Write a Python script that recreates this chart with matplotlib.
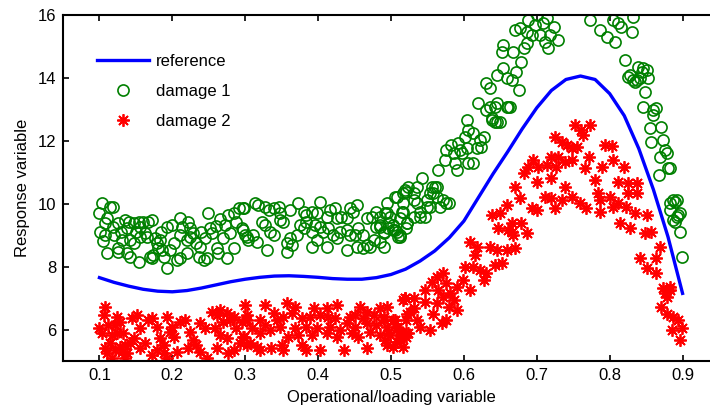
import numpy as np
import matplotlib.pyplot as plt

plt.rcParams['font.family'] = ['Liberation Sans', 'DejaVu Sans']

# reference response curve
ref_x = [0.10, 0.12, 0.14, 0.16, 0.18, 0.20, 0.22, 0.24, 0.26, 0.28, 0.30,
         0.32, 0.34, 0.36, 0.38, 0.40, 0.42, 0.44, 0.46, 0.48, 0.50, 0.52,
         0.54, 0.56, 0.58, 0.60, 0.62, 0.64, 0.66, 0.68, 0.70, 0.72, 0.74,
         0.76, 0.78, 0.80, 0.82, 0.84, 0.86, 0.88, 0.90]
ref_y = [7.65, 7.50, 7.38, 7.28, 7.22, 7.20, 7.24, 7.32, 7.42, 7.52, 7.60,
         7.66, 7.70, 7.71, 7.69, 7.66, 7.62, 7.60, 7.60, 7.65, 7.75, 7.92,
         8.18, 8.50, 8.92, 9.45, 10.20, 10.95, 11.65, 12.38, 13.05, 13.60, 13.95,
         14.06, 13.95, 13.50, 12.80, 11.75, 10.45, 8.95, 7.15]

# damage 1 measurements (x, y)
damage1 = [
    (0.103, 10.01), (0.115, 9.91), (0.118, 9.89), (0.099, 9.72), (0.110, 9.54),
    (0.108, 9.38), (0.101, 9.11), (0.108, 9.01), (0.119, 9.27), (0.126, 9.38),
    (0.135, 9.48), (0.140, 9.43), (0.138, 9.22), (0.147, 9.38), (0.154, 9.43),
    (0.160, 9.43), (0.156, 9.27), (0.167, 9.43), (0.172, 9.48), (0.131, 8.85),
    (0.126, 8.58), (0.142, 8.85), (0.147, 8.74), (0.138, 8.42), (0.154, 8.16),
    (0.163, 9.06), (0.176, 8.90), (0.179, 8.74), (0.183, 8.85), (0.174, 8.37),
    (0.172, 8.26), (0.188, 8.32), (0.197, 8.53), (0.202, 8.74), (0.192, 7.95),
    (0.199, 9.32), (0.211, 9.54), (0.213, 9.27), (0.222, 9.43), (0.224, 9.22),
    (0.229, 9.06), (0.220, 8.85), (0.224, 8.95), (0.206, 8.21), (0.211, 8.26),
    (0.220, 8.42), (0.233, 8.74), (0.238, 8.64), (0.236, 8.32), (0.243, 8.21),
    (0.247, 8.26), (0.249, 9.70), (0.252, 9.22), (0.254, 9.06), (0.261, 8.58),
    (0.263, 8.42), (0.270, 8.90), (0.275, 8.26), (0.277, 9.64), (0.284, 9.70),
    (0.291, 9.85), (0.297, 9.85), (0.288, 9.43), (0.297, 9.17), (0.302, 8.95),
    (0.279, 9.06), (0.272, 9.32), (0.110, 8.42), (0.126, 8.48), (0.142, 8.32),
    (0.170, 8.32), (0.186, 8.53), (0.156, 8.95), (0.192, 9.27), (0.120, 9.00),
    (0.130, 9.10), (0.165, 8.95), (0.185, 9.10), (0.210, 9.00), (0.240, 9.10),
    (0.260, 9.30), (0.285, 8.60), (0.245, 8.90), (0.105, 8.80), (0.150, 9.10),
    (0.180, 8.60), (0.265, 9.50),
    (0.298, 9.85), (0.314, 10.01), (0.318, 9.96), (0.327, 9.91), (0.332, 9.80),
    (0.339, 9.85), (0.346, 9.91), (0.348, 9.70), (0.373, 10.01), (0.362, 9.80),
    (0.380, 9.75), (0.384, 9.64), (0.391, 9.75), (0.398, 9.70), (0.403, 10.07),
    (0.412, 9.59), (0.416, 9.80), (0.423, 9.85), (0.426, 9.54), (0.432, 9.59),
    (0.439, 9.54), (0.444, 9.85), (0.453, 9.96), (0.448, 9.75), (0.467, 9.54),
    (0.474, 9.59), (0.480, 9.75), (0.494, 10.01), (0.506, 10.22), (0.517, 10.01),
    (0.521, 10.38), (0.517, 9.75), (0.512, 9.54), (0.295, 9.22), (0.300, 9.01),
    (0.304, 8.85), (0.311, 9.01), (0.323, 9.43), (0.327, 9.32), (0.334, 9.11),
    (0.339, 9.01), (0.348, 9.48), (0.352, 9.43), (0.362, 8.90), (0.357, 8.74),
    (0.364, 8.69), (0.371, 9.01), (0.375, 9.32), (0.380, 9.22), (0.384, 9.43),
    (0.391, 9.11), (0.396, 9.32), (0.403, 9.27), (0.407, 9.11), (0.414, 9.22),
    (0.421, 9.01), (0.426, 8.90), (0.430, 9.11), (0.439, 9.17), (0.444, 9.01),
    (0.451, 9.01), (0.455, 9.22), (0.462, 9.01), (0.467, 8.69), (0.471, 8.64),
    (0.476, 8.85), (0.480, 9.27), (0.485, 9.32), (0.490, 9.11), (0.496, 9.22),
    (0.503, 9.32), (0.508, 9.11), (0.512, 9.01), (0.521, 9.22), (0.330, 8.53),
    (0.357, 8.48), (0.391, 8.64), (0.439, 8.53), (0.462, 8.58), (0.412, 8.64),
    (0.398, 8.85), (0.453, 8.64), (0.485, 8.79), (0.316, 8.79),
    (0.494, 9.70), (0.503, 9.16), (0.512, 8.95), (0.490, 8.63), (0.531, 10.12),
    (0.554, 10.33), (0.522, 9.38), (0.540, 9.59), (0.563, 10.54), (0.576, 10.01),
    (0.549, 9.91), (0.485, 9.27),
    (0.490, 9.06), (0.496, 9.38), (0.506, 9.17), (0.510, 8.95), (0.499, 9.59),
    (0.485, 9.59), (0.492, 9.70), (0.508, 10.22), (0.519, 10.43), (0.524, 10.54),
    (0.517, 10.33), (0.531, 10.33), (0.535, 10.54), (0.542, 10.81), (0.535, 10.01),
    (0.540, 9.75), (0.547, 9.59), (0.531, 9.59), (0.522, 9.38), (0.515, 9.75),
    (0.549, 10.12), (0.556, 10.54), (0.560, 10.54), (0.563, 10.22), (0.572, 10.12),
    (0.579, 10.01), (0.567, 9.91), (0.554, 9.91), (0.558, 10.33), (0.565, 11.07),
    (0.574, 11.39), (0.576, 11.71), (0.583, 11.87), (0.592, 11.92), (0.597, 11.60),
    (0.588, 11.28), (0.590, 11.07), (0.606, 11.28), (0.613, 11.28), (0.604, 11.76),
    (0.595, 11.71), (0.586, 11.60), (0.602, 12.13), (0.606, 12.35), (0.604, 12.66),
    (0.613, 12.24), (0.622, 12.03), (0.627, 12.13), (0.624, 11.81), (0.618, 11.76),
    (0.636, 13.09), (0.645, 13.19), (0.659, 13.09), (0.663, 13.09), (0.643, 12.61),
    (0.638, 12.72), (0.650, 12.61),
    (0.700, 16.00), (0.714, 15.89), (0.688, 15.84), (0.698, 15.68), (0.709, 15.74),
    (0.723, 15.63), (0.670, 15.52), (0.677, 15.58), (0.686, 15.47), (0.693, 15.36),
    (0.704, 15.36), (0.718, 15.36), (0.729, 15.21), (0.711, 15.15), (0.716, 14.94),
    (0.682, 14.94), (0.686, 15.10), (0.668, 14.83), (0.654, 15.05), (0.652, 14.83),
    (0.679, 14.52), (0.654, 14.30), (0.672, 14.20), (0.645, 14.09), (0.659, 13.99),
    (0.666, 13.93), (0.631, 13.83), (0.636, 13.67), (0.675, 13.62), (0.620, 13.19),
    (0.631, 12.98), (0.643, 13.09), (0.661, 13.09), (0.638, 12.66), (0.645, 12.61),
    (0.773, 15.84), (0.787, 15.52), (0.796, 15.31), (0.807, 15.15), (0.805, 15.84),
    (0.812, 15.74), (0.816, 15.63), (0.832, 15.95), (0.830, 15.47), (0.821, 14.57),
    (0.828, 14.09), (0.839, 14.36), (0.844, 14.20), (0.837, 13.93), (0.851, 14.25),
    (0.853, 13.99), (0.832, 13.93), (0.848, 13.56), (0.846, 13.09), (0.864, 13.03),
    (0.860, 12.82), (0.871, 12.45), (0.855, 12.40), (0.873, 12.03), (0.857, 11.97),
    (0.878, 11.60), (0.869, 11.50), (0.880, 11.13), (0.867, 10.91), (0.887, 10.12),
    (0.846, 14.31), (0.841, 13.99), (0.825, 14.04), (0.835, 13.88), (0.860, 12.98),
    (0.876, 11.71), (0.883, 11.13), (0.889, 10.07), (0.883, 9.80), (0.892, 9.59),
    (0.887, 9.48), (0.894, 9.64), (0.896, 9.11), (0.899, 8.32), (0.883, 10.01),
    (0.892, 10.12), (0.896, 9.70), (0.889, 9.43),
]

# damage 2 measurements (x, y)
damage2 = [
    (0.108, 6.73), (0.106, 6.46), (0.099, 6.04), (0.103, 5.88), (0.112, 6.15),
    (0.124, 6.41), (0.128, 6.25), (0.122, 6.15), (0.117, 5.83), (0.124, 5.88),
    (0.133, 5.88), (0.144, 6.36), (0.151, 6.46), (0.156, 6.04), (0.147, 5.72),
    (0.142, 5.56), (0.135, 5.51), (0.128, 5.46), (0.115, 5.56), (0.108, 5.40),
    (0.110, 5.24), (0.122, 5.35), (0.131, 5.30), (0.138, 5.24), (0.117, 5.09),
    (0.135, 5.09), (0.156, 5.40), (0.163, 5.56), (0.167, 6.30), (0.172, 6.36),
    (0.179, 6.09), (0.183, 5.72), (0.188, 5.51), (0.192, 6.41), (0.197, 5.93),
    (0.202, 5.77), (0.199, 6.09), (0.179, 5.35), (0.172, 5.19), (0.188, 5.24),
    (0.192, 5.09), (0.206, 5.30), (0.211, 6.25), (0.218, 6.30), (0.224, 5.93),
    (0.229, 5.67), (0.233, 5.51), (0.222, 5.40), (0.238, 5.30), (0.247, 5.09),
    (0.238, 6.20), (0.245, 6.04), (0.254, 6.57), (0.261, 6.46), (0.265, 6.62),
    (0.275, 6.52), (0.270, 6.25), (0.279, 6.30), (0.284, 6.41), (0.259, 6.04),
    (0.265, 5.83), (0.275, 5.72), (0.288, 6.04), (0.295, 6.25), (0.297, 5.77),
    (0.302, 5.51), (0.284, 5.35), (0.277, 5.24), (0.261, 5.40), (0.300, 6.78),
    (0.302, 6.46),
    (0.327, 6.78), (0.357, 6.83), (0.368, 6.73), (0.394, 6.67), (0.412, 6.67),
    (0.426, 6.78), (0.458, 6.73), (0.467, 6.57), (0.485, 6.67), (0.517, 6.94),
    (0.526, 6.57), (0.302, 6.30), (0.320, 6.30), (0.339, 6.52), (0.343, 6.30),
    (0.352, 6.41), (0.364, 6.52), (0.378, 6.36), (0.389, 6.41), (0.403, 6.46),
    (0.414, 6.41), (0.423, 6.36), (0.444, 6.41), (0.451, 6.46), (0.462, 6.36),
    (0.476, 6.46), (0.490, 6.41), (0.506, 6.30), (0.521, 6.30), (0.309, 6.04),
    (0.327, 6.15), (0.334, 5.99), (0.348, 6.09), (0.368, 6.04), (0.384, 6.09),
    (0.398, 6.04), (0.416, 6.09), (0.430, 5.99), (0.439, 6.20), (0.451, 6.09),
    (0.467, 6.20), (0.480, 6.15), (0.494, 6.09), (0.508, 6.04), (0.512, 5.93),
    (0.521, 5.88), (0.298, 5.77), (0.320, 5.88), (0.359, 5.77), (0.373, 5.83),
    (0.391, 5.83), (0.412, 5.88), (0.426, 5.77), (0.446, 5.88), (0.455, 5.77),
    (0.471, 5.93), (0.485, 5.83), (0.499, 5.83), (0.512, 5.72), (0.521, 5.77),
    (0.307, 5.56), (0.316, 5.45), (0.336, 5.40), (0.350, 5.51), (0.378, 5.51),
    (0.384, 5.35), (0.403, 5.35), (0.435, 5.35), (0.467, 5.40), (0.494, 5.51),
    (0.508, 5.61), (0.320, 5.35), (0.293, 5.56), (0.352, 5.35),
    (0.494, 6.73), (0.490, 6.30), (0.503, 6.30), (0.496, 5.88), (0.508, 6.09),
    (0.519, 6.99), (0.522, 6.51), (0.524, 5.88), (0.531, 6.67), (0.535, 6.30),
    (0.540, 6.09), (0.547, 6.89), (0.554, 5.99), (0.558, 6.51), (0.563, 6.83),
    (0.572, 7.05), (0.579, 6.73), (0.590, 6.62), (0.576, 6.30), (0.570, 6.20),
    (0.512, 5.67), (0.517, 5.45), (0.503, 5.45), (0.492, 5.67),
    (0.752, 12.50), (0.773, 12.50), (0.761, 12.35), (0.764, 12.19), (0.725, 12.13),
    (0.734, 11.97), (0.741, 11.87), (0.748, 11.76), (0.755, 11.81), (0.793, 11.87),
    (0.803, 11.84), (0.771, 11.50), (0.695, 11.39), (0.688, 11.18), (0.682, 10.97),
    (0.702, 11.18), (0.714, 11.23), (0.720, 11.50), (0.729, 11.50), (0.739, 11.34),
    (0.748, 11.39), (0.727, 11.18), (0.766, 11.13), (0.789, 11.18), (0.805, 11.39),
    (0.819, 11.18), (0.700, 10.70), (0.720, 10.81), (0.739, 10.54), (0.780, 10.75),
    (0.812, 10.70), (0.825, 10.65), (0.837, 10.65), (0.670, 10.54), (0.677, 10.17),
    (0.659, 9.96), (0.650, 9.70), (0.638, 9.64), (0.693, 9.85), (0.700, 9.80),
    (0.711, 10.22), (0.720, 10.17), (0.725, 9.85), (0.734, 10.12), (0.748, 10.22),
    (0.759, 10.01), (0.768, 9.85), (0.784, 10.33), (0.787, 10.12), (0.787, 9.75),
    (0.800, 10.22), (0.805, 9.91), (0.812, 10.01), (0.823, 9.91), (0.825, 10.33),
    (0.837, 10.33), (0.835, 9.70), (0.851, 9.64), (0.814, 9.38), (0.828, 9.22),
    (0.848, 9.06), (0.857, 9.11), (0.679, 9.38), (0.686, 9.06), (0.666, 9.38),
    (0.661, 9.17), (0.647, 9.22), (0.666, 9.11), (0.668, 9.01), (0.608, 8.79),
    (0.618, 8.64), (0.615, 8.37), (0.636, 8.64), (0.645, 8.53), (0.659, 8.53),
    (0.670, 8.58), (0.602, 8.00), (0.613, 8.00), (0.622, 7.89), (0.631, 7.79),
    (0.643, 8.05), (0.652, 8.11), (0.627, 7.57), (0.572, 7.79), (0.563, 7.68),
    (0.576, 7.47), (0.556, 7.52), (0.547, 7.26), (0.565, 7.26), (0.581, 7.15),
    (0.590, 7.36), (0.599, 7.57), (0.608, 7.26), (0.586, 6.94), (0.519, 6.99),
    (0.531, 6.99), (0.841, 8.26), (0.864, 8.26), (0.869, 8.64), (0.851, 7.95),
    (0.864, 7.79), (0.873, 7.31), (0.883, 7.26), (0.878, 7.05),
    (0.871, 6.73), (0.878, 6.51), (0.887, 6.41), (0.894, 6.30), (0.899, 6.04),
    (0.896, 5.67), (0.885, 5.99), (0.883, 7.36), (0.876, 7.15),
]

d1 = np.array(damage1)
d2 = np.array(damage2)

fig = plt.figure(figsize=(7.1, 4.07), dpi=100)
# the right edge of the axes runs past the figure border
ax = fig.add_axes([63 / 710, 46 / 407, 656 / 710, 346 / 407])

ax.plot(ref_x, ref_y, color='#0000ff', linewidth=2.4, label='reference')
ax.plot(d1[:, 0], d1[:, 1], linestyle='none', marker='o', markersize=8,
        markerfacecolor='none', markeredgecolor='#008000', markeredgewidth=1.2,
        label='damage 1')
ax.plot(d2[:, 0], d2[:, 1], linestyle='none', marker=(8, 2, 0), markersize=9,
        color='#ff0000', markeredgewidth=1.3, label='damage 2')

ax.set_xlim(0.05, 0.95)
ax.set_ylim(5, 16)
ax.set_xticks(np.arange(0.1, 0.91, 0.1))
ax.set_xticklabels(['0.1', '0.2', '0.3', '0.4', '0.5', '0.6', '0.7', '0.8', '0.9'])
ax.set_yticks([6, 8, 10, 12, 14, 16])
ax.tick_params(direction='in', length=4, width=1.2, top=True, right=True,
               labelsize=12, pad=5)
for s in ax.spines.values():
    s.set_linewidth(1.5)

ax.set_xlabel('Operational/loading variable', fontsize=12, labelpad=5)
ax.set_ylabel('Response variable', fontsize=12, labelpad=5)

ax.legend(loc='upper left', bbox_to_anchor=(0.029, 0.93), frameon=False,
          fontsize=12, handlelength=3.1, handletextpad=0.45, labelspacing=0.88)

fig.savefig('out.png', dpi=100)
